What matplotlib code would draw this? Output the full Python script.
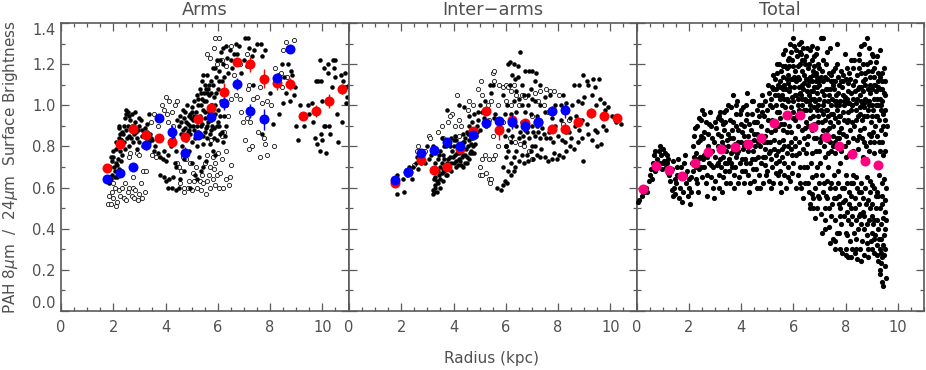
import numpy as np
import matplotlib
matplotlib.use("Agg")
import matplotlib.pyplot as plt

plt.rcParams["font.family"] = ["DejaVu Sans"]
plt.rcParams["mathtext.fontset"] = "dejavusans"

# ------------------------------------------------------------
# Binned means
# ------------------------------------------------------------
arms_red_x = [1.75, 2.25, 2.75, 3.25, 3.75, 4.25, 4.75, 5.25, 5.75, 6.25, 6.75, 7.25, 7.75, 8.25, 8.75, 9.25, 9.75, 10.25, 10.75]
arms_red_y = [0.693, 0.81, 0.885, 0.857, 0.84, 0.823, 0.845, 0.935, 0.989, 1.067, 1.213, 1.20, 1.13, 1.107, 1.105, 0.948, 0.974, 1.02, 1.08]
arms_red_e = [0.01, 0.01, 0.01, 0.01, 0.02, 0.02, 0.01, 0.01, 0.01, 0.04, 0.02, 0.035, 0.045, 0.03, 0.03, 0.01, 0.03, 0.035, 0.025]
arms_blue_x = [1.75, 2.25, 2.75, 3.25, 3.75, 4.25, 4.75, 5.25, 5.75, 6.25, 6.75, 7.25, 7.75, 8.25, 8.75]
arms_blue_y = [0.64, 0.672, 0.698, 0.805, 0.94, 0.87, 0.769, 0.858, 0.945, 1.01, 1.105, 0.974, 0.932, 1.133, 1.276]
arms_blue_e = [0.01, 0.01, 0.01, 0.02, 0.01, 0.035, 0.03, 0.02, 0.02, 0.03, 0.03, 0.035, 0.05, 0.02, 0.01]

inter_red_x = [1.75, 2.25, 2.75, 3.25, 3.75, 4.25, 4.75, 5.25, 5.75, 6.25, 6.75, 7.25, 7.75, 8.25, 8.75, 9.25, 9.75, 10.25]
inter_red_y = [0.624, 0.675, 0.735, 0.685, 0.70, 0.787, 0.875, 0.974, 0.88, 0.928, 0.912, 0.92, 0.886, 0.885, 0.917, 0.963, 0.95, 0.94]
inter_red_e = [0.01, 0.01, 0.01, 0.01, 0.01, 0.01, 0.01, 0.01, 0.05, 0.02, 0.02, 0.02, 0.01, 0.01, 0.01, 0.025, 0.02, 0.01]
inter_blue_x = [1.75, 2.25, 2.75, 3.25, 3.75, 4.25, 4.75, 5.25, 5.75, 6.25, 6.75, 7.25, 7.75, 8.25]
inter_blue_y = [0.636, 0.678, 0.766, 0.784, 0.82, 0.803, 0.855, 0.912, 0.925, 0.92, 0.90, 0.92, 0.974, 0.977]
inter_blue_e = [0.01, 0.01, 0.01, 0.01, 0.01, 0.01, 0.01, 0.02, 0.02, 0.035, 0.03, 0.03, 0.025, 0.04]

total_x = [0.25, 0.75, 1.25, 1.75, 2.25, 2.75, 3.25, 3.75, 4.25, 4.75, 5.25, 5.75, 6.25, 6.75, 7.25, 7.75, 8.25, 8.75, 9.25]
total_y = [0.595, 0.706, 0.685, 0.657, 0.719, 0.772, 0.789, 0.797, 0.811, 0.839, 0.912, 0.953, 0.951, 0.894, 0.847, 0.803, 0.761, 0.73, 0.709]

# ------------------------------------------------------------
# Individual pixels, estimated by eye (radius, ratio)
# ------------------------------------------------------------
arms_filled = [
(1.85,0.62),(1.9,0.64),(1.95,0.66),(1.88,0.7),(1.95,0.73),(2.0,0.75),(1.92,0.75),(2.0,0.78),(2.05,0.68),(2.1,0.72),(2.12,0.79),(2.15,0.65),
(2.2,0.69),(2.18,0.74),(2.2,0.84),(2.2,0.89),(2.22,0.9),(2.25,0.78),(2.3,0.83),(2.32,0.87),(2.35,0.76),(2.4,0.9),(2.42,0.82),(2.45,0.79),
(2.48,0.98),(2.5,0.96),(2.55,0.97),(2.6,0.95),(2.5,0.88),(2.52,0.84),(2.6,0.8),(2.62,0.85),(2.65,0.93),(2.7,0.9),(2.72,0.96),(2.75,0.82),
(2.8,0.86),(2.85,0.92),(2.9,0.79),(2.92,0.84),(2.95,0.88),(3.0,0.82),(3.05,0.93),(3.1,0.85),(3.15,0.8),(3.2,0.89),(3.25,0.84),(3.3,0.91),
(3.35,0.96),(3.38,0.82),(3.42,0.86),(3.5,0.83),(3.55,0.78),(3.6,0.8),(3.7,0.77),(3.8,0.75),(3.9,0.74),(3.95,0.78),(3.8,0.66),(3.95,0.65),
(4.0,0.63),(4.1,0.6),(4.15,0.64),(4.25,0.6),(4.3,0.65),(4.4,0.59),(4.5,0.6),(4.55,0.64),(4.0,0.73),(4.1,0.76),(4.2,0.8),(4.3,0.84),
(4.35,0.72),(4.4,0.78),(4.45,0.93),(4.5,0.9),(4.55,0.95),(4.6,0.86),(4.62,0.8),(4.65,0.98),(4.7,0.94),(4.72,0.74),(4.75,0.89),(4.8,0.83),
(4.82,1.0),(4.85,0.91),(4.9,0.78),(4.92,0.96),(4.95,0.86),(5.0,0.99),(5.0,0.82),(5.02,0.72),(5.05,0.93),(5.1,1.02),(5.1,0.88),(5.12,0.66),
(5.15,0.97),(5.2,0.8),(5.2,1.05),(5.22,0.9),(5.25,1.0),(5.28,0.75),(5.3,1.08),(5.3,0.95),(5.32,0.86),(5.35,0.68),(5.38,1.03),(5.4,1.12),
(5.4,0.91),(5.42,0.81),(5.45,1.15),(5.45,0.98),(5.48,1.06),(5.5,0.87),(5.5,1.1),(5.52,0.94),(5.55,1.02),(5.55,0.73),(5.58,0.84),(5.6,1.15),
(5.6,0.9),(5.62,1.08),(5.65,0.97),(5.68,1.05),(5.7,0.86),(5.72,1.12),(5.75,0.93),(5.78,1.0),(5.8,0.78),(5.82,1.18),(5.85,0.89),(5.85,1.04),
(5.9,0.96),(5.92,1.14),(5.95,0.83),(5.98,1.22),(6.0,0.92),(6.0,1.08),(6.05,1.17),(6.1,0.86),(6.12,1.26),(6.15,1.12),(6.2,1.2),(6.2,0.82),
(6.25,0.95),(6.3,1.29),(6.35,1.23),(6.4,1.16),(6.45,1.27),(6.5,1.22),(6.55,1.18),(6.6,1.25),(6.7,1.3),(6.75,1.25),(6.8,1.29),(6.9,1.16),
(7.0,1.22),(7.05,1.33),(7.15,1.33),(7.2,1.28),(7.3,1.24),(7.4,1.27),(7.5,1.3),(7.65,1.3),(7.7,1.24),(7.8,1.27),(7.1,1.19),(7.35,1.1),
(8.1,0.91),(8.0,1.06),(8.2,1.12),(8.3,1.15),(8.35,0.96),(8.45,1.2),(8.5,1.01),(8.55,1.14),(8.6,1.06),(8.7,1.2),(8.75,1.02),(8.8,1.17),
(8.95,1.09),(8.9,1.05),(7.7,0.86),(8.85,1.15),
(9.0,0.9),(9.05,0.83),(9.15,1.0),(9.3,0.9),(9.35,0.95),(9.45,1.0),(9.5,0.96),(9.6,1.01),(9.65,0.92),(9.7,0.84),(9.75,1.12),(9.85,1.12),
(9.95,1.12),(9.9,0.78),(9.95,0.86),(9.8,0.81),(10.0,0.83),(10.05,0.9),(10.0,1.02),(10.1,0.9),(10.05,1.18),(10.2,1.16),(10.15,0.77),(10.25,0.9),
(10.3,0.86),(10.35,1.09),(10.4,1.22),(10.45,1.18),(10.5,1.14),(10.55,0.96),(10.6,0.82),(10.75,0.92),(10.85,1.16),(10.9,1.01),(10.95,1.04),
(10.7,1.15),(10.8,1.12),(10.5,1.22),(9.9,1.22),(10.2,1.2),(11.0,1.1),(10.9,1.09),(4.7,0.68),(4.95,0.6),(5.2,0.64),(5.45,0.7),(4.4,0.7),
(3.0,0.94),(2.85,0.97),(2.3,0.73),(5.7,0.81),(5.9,0.76),(6.1,0.95),(6.3,0.9),(5.35,1.0),(5.55,1.08),(5.75,1.06),(4.9,0.88),(5.1,0.95),
# denser knots around the main ridge
(5.05,0.9),(5.12,0.84),(5.18,0.93),(5.24,0.87),(5.26,1.03),(5.34,0.9),(5.36,1.06),(5.44,0.85),(5.46,1.02),(5.52,0.97),(5.56,0.89),(5.58,1.06),
(5.64,0.92),(5.66,1.1),(5.72,1.0),(5.74,0.88),(5.8,1.1),(5.82,0.94),(5.88,1.0),(5.9,1.18),(5.94,1.06),(6.02,0.98),(6.04,1.12),(6.08,1.22),
(6.14,1.02),(6.18,1.28),(6.22,1.14),(4.58,0.92),(4.68,0.88),(4.74,0.97),(4.78,0.92),(4.84,0.87),(4.88,0.95),(4.94,0.9),(4.98,0.94),(5.02,0.97),
(2.1,0.82),(2.26,0.86),(2.38,0.86),(2.44,0.94),(2.56,0.9),(2.68,0.84),(2.78,0.9),(2.88,0.87),(2.98,0.9),(3.08,0.88),(3.18,0.86),(3.28,0.87),
(3.34,0.84),(3.46,0.84),(2.02,0.7),(2.08,0.65),(2.16,0.71),(6.06,0.9),(6.16,0.87),(6.26,0.85),(5.96,0.9),(5.84,0.84),(5.76,0.9),
]
arms_open = [
(1.8,0.52),(1.85,0.56),(1.9,0.52),(1.95,0.58),(2.0,0.55),(2.05,0.6),(2.1,0.51),(2.15,0.53),(2.2,0.59),(2.25,0.56),(2.35,0.6),(2.4,0.55),
(2.45,0.62),(2.5,0.54),(2.55,0.58),(2.6,0.6),(2.7,0.56),(2.75,0.6),(2.8,0.55),(2.85,0.59),(2.95,0.54),(3.0,0.57),(3.05,0.62),(3.1,0.55),
(3.2,0.58),(3.15,0.68),(3.25,0.68),(2.75,0.65),(2.6,0.75),(2.9,0.77),(2.0,0.62),(1.85,0.65),(3.0,0.76),(3.5,0.76),(3.65,0.75),
(3.7,0.9),(3.55,0.96),(3.45,0.92),(3.95,0.98),(4.0,1.04),(3.85,1.0),(4.15,1.02),(4.35,1.0),(4.45,1.02),(4.25,0.97),(4.1,0.92),(4.05,0.96),
(4.3,0.9),(4.2,0.88),(4.6,0.68),(4.45,0.72),(4.5,0.7),(4.55,0.62),(4.7,0.6),(4.7,0.58),(4.85,0.6),(4.95,0.72),(5.05,0.67),(5.1,0.63),
(5.2,0.6),(5.3,0.63),(5.35,0.59),(5.45,0.62),(5.55,0.57),(5.6,0.63),(5.7,0.6),(5.8,0.64),(5.9,0.61),(5.95,0.66),(6.05,0.6),(6.1,0.67),
(6.2,0.6),(6.3,0.64),(6.42,0.61),(6.45,0.65),(6.5,0.71),(5.5,0.72),(5.7,0.7),(5.8,0.75),(5.9,0.72),(6.0,0.77),(6.15,0.74),(6.3,0.78),
(5.6,0.76),(5.75,0.83),(6.15,0.85),(6.25,0.87),(5.6,1.25),(5.7,1.23),(5.85,1.28),(5.9,1.33),(6.05,1.33),(5.95,1.2),(6.15,1.22),(6.3,1.19),
(6.5,1.29),(6.6,1.15),(6.3,1.0),(6.4,0.95),(6.5,1.03),(6.7,1.05),(6.85,1.03),(6.9,0.97),(7.15,1.08),(7.2,1.1),(7.35,1.03),(7.5,1.04),
(7.6,1.09),(7.9,1.02),(8.05,1.0),(7.7,1.01),(7.1,0.94),(6.95,0.92),(7.25,0.92),(7.05,0.83),(7.3,0.8),(7.2,0.79),(7.55,0.87),(7.6,0.75),
(7.75,0.84),(7.8,0.81),(7.9,0.76),(8.15,0.8),(8.2,1.18),(8.4,1.16),(8.65,1.14),(8.5,1.27),(8.6,1.31),(8.9,1.32),(8.3,1.12),(8.45,1.09),
(7.1,1.25),(6.85,1.2),(2.3,0.83),(2.65,0.77),(4.65,0.75),(4.8,0.74),(4.9,0.63),(5.0,0.59),(5.15,0.7),(5.4,0.66),(5.65,0.66),(5.85,0.69),
]
inter_filled = [
(1.85,0.57),(1.85,0.66),(2.05,0.64),(2.1,0.58),(2.2,0.66),(2.3,0.7),(2.4,0.64),(2.45,0.7),(2.55,0.72),(2.6,0.75),(2.65,0.69),(2.75,0.72),
(3.2,0.57),(3.22,0.59),(3.25,0.58),(3.28,0.61),(3.3,0.6),(3.35,0.63),(3.3,0.65),(3.4,0.62),(3.45,0.66),(3.25,0.68),(3.5,0.64),(3.55,0.67),
(3.6,0.63),(3.65,0.68),(3.5,0.7),(3.7,0.66),(3.75,0.72),(3.4,0.74),(3.6,0.76),(3.8,0.7),(3.85,0.75),(3.9,0.68),(3.95,0.78),(4.0,0.72),
(4.05,0.76),(4.1,0.7),(4.15,0.8),(4.2,0.74),(4.25,0.73),(4.3,0.78),(4.35,0.7),(4.4,0.82),(4.45,0.76),(4.5,0.72),(4.55,0.8),(4.6,0.74),
(4.65,0.78),(4.7,0.84),(4.75,0.8),(4.8,0.77),(4.85,0.85),(4.5,0.87),(4.6,0.9),(3.7,0.8),(3.55,0.84),(4.0,0.83),(3.2,0.8),(3.0,0.8),
(3.9,0.84),(4.35,0.86),(4.05,0.85),(3.75,0.98),(4.2,1.0),(4.4,0.99),(4.7,0.92),(4.8,0.96),(4.9,0.9),(5.0,1.0),(5.1,0.97),(5.2,1.02),
(5.3,0.98),(5.4,1.1),(5.5,1.1),(5.55,0.94),(5.0,0.88),(4.95,0.93),(5.15,0.94),(5.25,0.9),(5.45,1.06),(5.6,0.96),
(5.65,0.6),(5.8,0.59),(5.9,0.61),(5.95,0.63),(6.05,0.62),(6.1,0.68),(6.2,0.66),(6.3,0.68),(6.35,0.7),(5.9,0.7),(6.0,0.75),(6.1,0.78),
(6.2,0.72),(6.3,0.75),(6.4,0.78),(6.5,0.73),(6.6,0.76),(6.7,0.72),(6.85,0.73),(6.95,0.78),(7.05,0.74),(7.1,0.8),(7.2,0.76),(7.35,0.79),
(7.5,0.75),(7.6,0.73),(7.75,0.74),(7.85,0.77),(7.95,0.74),(8.05,0.76),(8.2,0.75),(8.3,0.78),(8.45,0.8),(8.6,0.79),(8.95,0.73),(8.75,0.82),
(8.9,0.84),(8.8,0.88),(9.15,0.86),(9.3,0.83),(9.5,0.8),(9.65,0.81),(5.95,0.85),(6.1,0.88),(6.25,0.85),(6.4,0.9),(6.5,0.84),(6.6,0.92),
(6.7,0.82),(6.8,0.87),(6.9,0.84),(7.0,0.9),(7.1,0.85),(7.2,0.9),(7.3,0.84),(7.4,0.89),(7.55,0.84),(7.65,0.87),(7.8,0.82),(7.9,0.9),
(8.0,0.85),(8.15,0.83),(8.3,0.87),(8.5,0.84),(8.65,0.9),(8.7,0.95),(8.9,0.93),(9.1,0.91),(9.4,0.88),(9.5,0.87),(9.7,0.9),(9.85,0.88),
(10.2,0.92),(10.4,0.91),(9.8,0.98),(9.9,0.99),(10.05,0.95),(9.45,1.0),(9.6,1.03),(9.75,1.01),(9.3,1.05),(9.15,1.1),(9.35,1.13),(9.4,1.09),
(9.55,1.13),(8.6,1.1),(8.8,1.1),(8.95,1.15),(9.1,1.12),(9.0,1.04),(8.75,1.02),(8.9,1.01),(8.55,1.0),(8.3,1.01),(8.2,1.05),(8.1,1.0),
(7.9,1.0),(7.7,1.05),(7.5,1.04),(7.3,1.1),(7.15,1.16),(7.0,1.17),(6.9,1.17),(6.75,1.17),(6.6,1.1),(6.45,1.14),(6.35,1.13),(6.25,1.15),
(6.1,1.2),(6.15,1.21),(6.3,1.2),(6.45,1.19),(6.55,1.26),(6.7,1.05),(6.85,1.05),(6.5,1.03),(6.3,1.02),(6.05,1.0),(5.9,1.05),(7.0,1.03),
(7.3,1.0),(7.5,0.97),(6.75,0.97),(6.95,0.96),(7.2,0.95),(6.2,0.96),(6.4,0.97),(5.95,0.96),(7.75,0.94),(8.1,0.93),(8.45,0.94),(6.55,0.87),
# denser knot between 3 and 5 kpc
(3.3,0.72),(3.45,0.76),(3.55,0.72),(3.65,0.74),(3.7,0.7),(3.8,0.74),(3.85,0.8),(3.92,0.72),(3.98,0.75),(4.02,0.8),(4.08,0.73),(4.12,0.77),
(4.18,0.71),(4.22,0.77),(4.28,0.71),(4.32,0.75),(4.38,0.76),(4.42,0.72),(4.48,0.79),(4.52,0.75),(4.58,0.83),(4.62,0.77),(4.68,0.81),(4.72,0.77),
(4.78,0.85),(4.82,0.81),(4.88,0.87),(4.25,0.8),(4.35,0.82),(4.45,0.84),(4.55,0.86),(4.65,0.86),(4.1,0.83),(3.35,0.58),(3.27,0.64),(3.42,0.68),
(3.5,0.6),(3.6,0.69),(3.75,0.66),(2.9,0.72),(3.05,0.74),(3.15,0.76),(3.3,0.77),(3.5,0.78),(3.65,0.8),(4.6,0.95),(4.75,0.88),(4.95,0.97),
(6.65,0.85),(6.75,0.88),(7.05,0.87),(7.25,0.87),(7.45,0.86),(7.7,0.84),(8.25,0.82),(8.4,0.87),(6.2,0.82),(6.0,0.8),(6.8,0.76),(7.0,0.8),
(7.3,0.75),(6.95,1.08),(7.1,1.12),(6.6,1.0),(6.85,1.0),(7.1,1.02),(6.4,1.07),(6.15,1.1),
]
inter_open = [
(2.5,0.71),(2.6,0.78),(2.65,0.8),(2.9,0.78),(3.05,0.85),(3.1,0.84),(3.3,0.78),(3.4,0.87),(3.55,0.9),(3.6,0.84),(3.8,0.92),(3.95,0.96),
(3.85,0.95),(4.05,0.9),(4.2,0.93),(4.3,0.9),(4.15,1.05),(4.55,0.98),(4.6,1.02),(4.75,1.0),(4.95,1.08),(5.05,1.12),(5.1,1.05),(5.3,1.0),
(5.5,1.16),(5.55,1.17),(5.55,1.12),(5.75,1.1),(5.9,1.09),(6.0,1.1),(6.1,1.09),(6.2,1.07),(6.3,1.1),(6.4,1.05),(6.5,1.0),(6.6,1.05),
(6.75,1.04),(7.1,1.06),(7.3,1.07),(7.55,1.08),(7.7,1.07),(7.85,1.07),(8.05,1.05),(8.3,0.98),(8.4,0.93),(4.2,0.85),
(5.0,0.7),(5.1,0.74),(5.2,0.76),(5.35,0.74),(5.5,0.74),(5.6,0.76),(5.7,0.8),(5.0,0.66),(5.1,0.66),(5.25,0.67),(5.35,0.64),(5.4,0.62),
(5.45,0.64),(5.5,0.85),(5.35,0.93),(6.0,0.8),(6.15,0.84),(6.35,0.82),(6.55,0.81),(6.7,0.8),(6.9,0.78),(7.0,0.74),(5.8,0.89),(5.9,0.92),
(7.0,0.95),(7.25,1.02),(7.45,1.0),(7.6,0.97),(7.8,0.98),(8.2,0.91),(6.0,1.02),(6.2,1.0),(5.7,1.0),(5.45,1.02),
]
total_filled = [
(0.07,0.53),(0.1,0.54),(0.22,0.56),(0.3,0.58),(0.36,0.6),(0.42,0.58),(0.47,0.63),(0.52,0.66),(0.55,0.69),(0.6,0.64),(0.63,0.72),(0.68,0.76),
(0.72,0.78),(0.78,0.74),(0.82,0.71),(0.85,0.78),(0.9,0.8),(0.93,0.76),(0.97,0.69),(0.7,0.68),(0.88,0.72),(1.02,0.79),(1.05,0.73),(1.1,0.77),
(1.14,0.7),(1.18,0.76),(1.22,0.74),(1.26,0.66),(1.3,0.63),(1.34,0.69),(1.38,0.73),(1.42,0.6),(1.46,0.64),(1.48,0.57),(1.35,0.59),(1.4,0.56),
(1.2,0.67),(1.52,0.62),(1.56,0.7),(1.6,0.74),(1.62,0.55),(1.66,0.6),(1.7,0.65),(1.74,0.53),(1.78,0.58),(1.8,0.72),(1.84,0.76),(1.88,0.62),
(1.92,0.68),(1.96,0.56),(2.0,0.6),(2.05,0.52),(2.08,0.65),(2.12,0.72),(2.16,0.8),(2.2,0.85),(2.24,0.89),(2.28,0.77),(2.3,0.62),(2.34,0.58),
(2.38,0.69),(2.42,0.83),(2.46,0.93),(2.5,0.98),(2.54,0.74),(2.58,0.96),(2.6,0.87),(2.64,0.62),(2.68,0.56),(2.7,0.66),(2.74,0.8),(2.78,0.91),
(2.82,0.97),(2.86,0.71),(2.9,0.84),(2.94,0.6),(2.98,0.55),(3.02,0.75),(3.06,0.89),(3.1,0.94),(3.14,0.66),(3.18,0.79),(3.22,0.85),(3.26,0.58),
(3.3,0.91),(3.34,0.97),(3.38,0.72),(3.42,0.62),(3.46,0.83),(3.5,1.0),(3.54,0.68),(3.58,0.93),(3.62,0.77),(3.66,0.88),(3.7,1.05),(3.74,0.6),
(3.78,0.7),(3.82,0.96),(3.86,1.02),(3.9,0.82),(3.94,0.65),(3.98,0.91),(4.02,0.74),(4.06,0.99),(4.1,0.85),(4.14,0.68),(4.18,0.93),(4.22,1.06),
(4.26,0.78),(4.3,0.58),(4.34,0.72),(4.38,0.88),(4.42,0.96),(4.46,1.02),(4.5,0.63),(4.54,0.8),(4.58,0.69),(4.62,0.92),(4.66,0.75),(4.7,1.0),
(4.74,0.6),(4.78,0.84),(4.82,1.05),(4.86,0.95),(4.9,0.71),(4.94,0.66),(4.98,0.88),(5.02,1.1),(5.06,0.77),(5.1,1.0),(5.14,0.6),(5.18,0.93),
(5.22,1.15),(5.26,0.83),(5.3,1.05),(5.34,0.67),(5.38,1.2),(5.42,0.9),(5.46,0.73),(5.5,1.12),(5.54,0.58),(5.58,1.0),(5.62,1.25),(5.66,0.8),
(5.7,0.95),(5.74,1.18),(5.78,0.65),(5.82,1.07),(5.86,1.3),(5.9,0.87),(5.94,0.76),(5.98,1.33),(6.02,1.14),(6.06,0.93),(6.1,0.6),(6.14,1.24),
(6.18,1.03),(6.22,0.82),(6.26,0.7),(6.3,1.31),(6.34,1.1),(6.38,0.55),(6.42,0.98),(6.46,1.2),(6.5,0.77),(6.54,1.28),(6.58,0.9),(6.62,0.5),
(6.66,1.07),(6.7,0.65),(6.74,1.17),(6.78,0.84),(6.82,0.45),(6.86,1.25),(6.9,0.98),(6.94,0.56),(6.98,1.12),(7.02,0.72),(7.06,1.33),(7.1,0.38),
(7.14,0.88),(7.18,1.05),(7.22,0.5),(7.26,1.2),(7.3,0.63),(7.34,0.95),(7.38,0.41),(7.42,1.28),(7.46,0.78),(7.5,1.1),(7.54,0.55),(7.58,0.34),
(7.62,1.0),(7.66,1.3),(7.7,0.68),(7.74,0.87),(7.78,0.46),(7.82,1.17),(7.86,0.28),(7.9,1.05),(7.94,0.6),(7.98,1.25),(8.02,0.75),(8.06,0.37),
(8.1,0.93),(8.14,0.52),(8.18,1.13),(8.22,0.26),(8.26,1.0),(8.3,0.66),(8.34,1.22),(8.38,0.44),(8.42,0.83),(8.46,1.08),(8.5,0.58),(8.54,0.3),
(8.58,1.29),(8.62,0.93),(8.66,0.75),(8.7,0.4),(8.74,1.16),(8.78,0.52),(8.82,1.33),(8.86,0.26),(8.9,1.02),(8.94,0.63),(8.98,0.85),(9.02,0.46),
(9.06,1.24),(9.1,0.35),(9.14,1.1),(9.18,0.56),(9.22,0.95),(9.26,0.66),(9.3,1.27),(9.34,0.28),(9.38,0.82),(9.42,0.45),(9.46,1.18),(9.5,0.22),
(9.52,1.05),(9.55,0.6),(9.57,0.9),(9.48,0.37),(9.4,0.14),(9.45,0.12),(9.55,0.16),(9.3,0.2),(9.32,0.18),
(2.6,0.76),(2.9,0.78),(3.1,0.8),(3.3,0.75),(3.5,0.8),(3.6,0.72),(3.7,0.84),(3.85,0.77),(4.0,0.82),(4.15,0.74),(4.28,0.85),(4.45,0.78),
(4.6,0.86),(4.72,0.8),(4.85,0.75),(5.0,0.82),(5.15,0.87),(5.3,0.92),(5.45,0.97),(5.6,0.88),(5.75,1.03),(5.9,0.99),(6.05,1.05),(6.2,0.98),
(6.35,1.03),(6.5,0.92),(6.6,1.02),(6.75,0.95),(6.9,1.06),(7.05,0.98),(7.2,0.93),(7.35,1.05),(7.5,0.96),(7.65,1.05),(7.8,0.95),(7.95,1.0),
(8.1,1.07),(8.25,0.92),(8.4,0.98),(8.55,1.05),(8.7,0.95),(8.85,1.08),(9.0,1.0),(9.15,0.95),(9.3,1.03),(9.45,0.9),(9.5,0.98),
(5.35,1.08),(5.5,1.03),(5.65,1.1),(5.8,1.15),(5.95,1.22),(6.1,1.12),(6.25,1.2),(6.4,1.15),(6.55,1.1),(6.7,1.22),(6.85,1.12),(7.0,1.18),
(7.15,1.12),(7.3,1.08),(7.45,1.15),(7.6,1.18),(7.75,1.1),(7.9,1.15),(8.05,1.18),(8.2,1.22),(8.35,1.12),(8.5,1.18),(8.65,1.12),(8.8,1.2),
(8.95,1.14),(9.1,1.18),(9.25,1.12),(9.4,1.08),(9.5,1.12),
(5.2,0.7),(5.35,0.76),(5.5,0.68),(5.65,0.72),(5.8,0.8),(5.95,0.67),(6.1,0.76),(6.25,0.62),(6.4,0.7),(6.55,0.62),(6.7,0.57),(6.85,0.66),
(7.0,0.62),(7.15,0.58),(7.3,0.55),(7.45,0.62),(7.6,0.6),(7.75,0.56),(7.9,0.53),(8.05,0.48),(8.2,0.56),(8.35,0.5),(8.5,0.46),(8.65,0.55),
(8.8,0.42),(8.95,0.5),(9.1,0.44),(9.25,0.4),(9.4,0.52),(9.5,0.48),(7.5,0.35),(7.75,0.38),(8.0,0.3),(8.2,0.42),(8.4,0.35),(8.6,0.42),
(8.8,0.33),(9.0,0.38),(9.2,0.32),(9.35,0.35),(9.5,0.3),(8.1,0.26),(8.35,0.28),(8.6,0.24),(8.85,0.3),(9.1,0.28),(9.25,0.24),
(7.0,0.78),(7.2,0.75),(7.4,0.82),(7.6,0.77),(7.8,0.72),(8.0,0.66),(8.2,0.62),(8.4,0.65),(8.6,0.62),(8.8,0.65),(9.0,0.61),(9.2,0.58),
(9.4,0.62),(7.1,0.85),(7.3,0.88),(7.5,0.85),(7.7,0.92),(7.9,0.86),(8.1,0.82),(8.3,0.78),(8.5,0.85),(8.7,0.82),(8.9,0.78),(9.1,0.82),
(9.3,0.78),(9.5,0.78),
# second pass over the dense body, band by band
(2.55,0.84),(2.72,0.86),(2.84,0.9),(2.96,0.82),(3.12,0.86),(3.24,0.93),(3.36,0.88),(3.44,0.78),(3.56,0.84),(3.68,0.92),(3.76,0.81),(3.88,0.88),
(3.96,0.96),(4.04,0.87),(4.12,0.9),(4.2,0.82),(4.32,0.91),(4.36,0.82),(4.48,0.86),(4.56,0.92),(4.64,0.82),(4.76,0.9),(4.8,0.97),(4.92,0.85),
(5.04,0.93),(5.12,0.82),(5.2,0.99),(5.28,0.88),(5.36,0.97),(5.44,0.82),(5.52,0.91),(5.6,0.83),(5.68,0.99),(5.76,0.87),(5.84,0.96),(5.92,0.82),
(6.0,0.97),(6.08,0.84),(6.16,0.9),(6.24,1.06),(6.32,0.88),(6.4,0.84),(6.48,0.98),(6.56,0.85),(6.64,0.94),(6.72,0.88),(6.8,0.99),(6.88,0.84),
(6.96,0.92),(7.04,0.84),(7.12,0.96),(7.28,0.83),(7.36,0.89),(7.44,0.96),(7.52,0.9),(7.6,0.82),(7.68,0.98),(7.76,0.84),(7.84,0.89),(7.92,0.93),
(8.0,0.85),(8.08,0.97),(8.16,0.88),(8.32,0.9),(8.48,0.95),(8.56,0.88),(8.64,1.0),(8.72,0.89),(8.8,0.95),(8.88,0.86),(8.96,0.92),(9.04,0.87),
(9.12,0.9),(9.2,0.85),(9.28,0.93),(9.36,0.88),(9.44,0.96),(9.52,0.86),
(4.9,1.02),(5.0,0.98),(5.08,1.06),(5.16,1.03),(5.24,1.08),(5.32,1.0),(5.4,1.05),(5.48,1.09),(5.56,1.05),(5.64,1.03),(5.72,1.08),(5.8,1.02),
(5.88,1.09),(5.96,1.04),(6.04,1.09),(6.12,1.05),(6.2,1.09),(6.28,1.05),(6.36,1.08),(6.44,1.03),(6.52,1.07),(6.6,1.05),(6.68,1.03),(6.76,1.07),
(6.84,1.02),(6.92,1.09),(7.0,1.03),(7.08,1.07),(7.16,1.02),(7.24,1.08),(7.32,1.02),(7.4,1.08),(7.48,1.03),(7.56,1.08),(7.64,1.02),(7.72,1.06),
(7.8,1.02),(7.88,1.09),(7.96,1.04),(8.04,1.03),(8.12,1.01),(8.2,1.06),(8.28,1.03),(8.36,1.07),(8.44,1.03),(8.52,1.09),(8.6,1.02),(8.68,1.07),
(8.76,1.03),(8.84,1.02),(8.92,1.06),(9.0,1.08),(9.08,1.03),(9.16,1.07),(9.24,1.0),(9.32,1.08),(9.4,1.02),(9.48,1.06),
(5.2,1.09),(5.28,1.13),(5.36,1.16),(5.44,1.2),(5.52,1.17),(5.6,1.14),(5.68,1.19),(5.76,1.13),(5.84,1.19),(5.92,1.13),(6.0,1.19),(6.08,1.17),
(6.16,1.14),(6.24,1.26),(6.32,1.17),(6.4,1.22),(6.48,1.13),(6.56,1.18),(6.64,1.14),(6.72,1.12),(6.8,1.19),(6.88,1.16),(6.96,1.2),(7.04,1.14),
(7.12,1.22),(7.2,1.14),(7.36,1.16),(7.44,1.12),(7.52,1.17),(7.6,1.12),(7.68,1.2),(7.84,1.12),(8.0,1.13),(8.12,1.16),(8.28,1.18),(8.44,1.15),
(8.52,1.22),(8.6,1.16),(8.68,1.2),(8.76,1.13),(8.84,1.17),(8.92,1.21),(9.0,1.17),(9.08,1.14),(9.16,1.21),(9.24,1.16),(9.32,1.14),(9.4,1.16),
(5.7,1.27),(5.78,1.22),(5.9,1.26),(6.02,1.29),(6.1,1.27),(6.2,1.3),(6.28,1.25),(6.36,1.28),(6.5,1.24),(6.62,1.27),(6.7,1.29),(6.78,1.24),
(6.9,1.28),(7.14,1.33),(7.3,1.26),(8.7,1.3),(8.9,1.28),(9.0,1.25),(9.2,1.24),(8.5,1.25),
(2.28,0.7),(2.44,0.75),(2.5,0.65),(2.6,0.7),(2.76,0.72),(2.84,0.65),(2.92,0.7),(3.0,0.63),(3.08,0.71),(3.16,0.6),(3.24,0.7),(3.32,0.65),
(3.4,0.68),(3.48,0.72),(3.56,0.62),(3.64,0.7),(3.72,0.66),(3.8,0.75),(3.88,0.62),(3.96,0.72),(4.04,0.68),(4.12,0.62),(4.2,0.72),(4.28,0.66),
(4.36,0.62),(4.44,0.69),(4.52,0.74),(4.6,0.6),(4.68,0.66),(4.76,0.72),(4.84,0.62),(4.92,0.75),(5.0,0.68),(5.08,0.63),(5.16,0.74),(5.24,0.62),
(5.32,0.72),(5.4,0.66),(5.48,0.62),(5.56,0.75),(5.64,0.66),(5.72,0.6),(5.8,0.7),(5.88,0.63),(6.0,0.72),(6.16,0.66),(6.3,0.6),(6.44,0.62),
(6.52,0.7),(6.6,0.58),(6.68,0.72),(6.76,0.55),(6.84,0.6),(6.92,0.7),(7.0,0.55),(7.08,0.66),(7.16,0.62),(7.24,0.56),(7.32,0.7),(7.4,0.6),
(7.48,0.52),(7.56,0.66),(7.64,0.55),(7.72,0.62),(7.8,0.5),(7.88,0.6),(7.96,0.54),(8.04,0.62),(8.12,0.58),(8.2,0.5),(8.28,0.62),(8.36,0.55),
(8.44,0.6),(8.52,0.52),(8.6,0.58),(8.68,0.48),(8.76,0.6),(8.84,0.54),(8.92,0.58),(9.0,0.52),(9.08,0.6),(9.16,0.5),(9.24,0.56),(9.32,0.5),
(9.4,0.56),(9.5,0.54),(9.48,0.64),
(7.2,0.44),(7.36,0.5),(7.44,0.46),(7.6,0.44),(7.68,0.38),(7.76,0.52),(7.84,0.42),(7.92,0.46),(8.0,0.38),(8.08,0.44),(8.16,0.34),(8.24,0.46),
(8.32,0.38),(8.4,0.3),(8.48,0.4),(8.56,0.47),(8.64,0.34),(8.72,0.46),(8.8,0.37),(8.88,0.44),(8.96,0.34),(9.04,0.42),(9.12,0.37),(9.2,0.44),
(9.28,0.35),(9.36,0.42),(9.44,0.32),(9.52,0.4),(9.56,0.44),(9.2,0.27),(9.4,0.26),(9.3,0.3),(9.0,0.3),(8.72,0.27),(8.45,0.25),(8.25,0.3),
(8.0,0.27),(7.8,0.3),(7.6,0.3),(7.4,0.33),(7.2,0.4),(7.05,0.47),(6.9,0.5),(6.75,0.5),(6.65,0.52),(9.46,0.27),(9.35,0.23),
(1.0,0.72),(1.16,0.72),(1.3,0.68),(1.54,0.66),(1.7,0.7),(1.86,0.66),(2.02,0.64),(2.1,0.58),(2.18,0.68),(2.26,0.64),(2.36,0.74),(2.48,0.7),
(2.2,0.75),(2.34,0.82),(2.32,0.9),(2.4,0.94),(2.48,0.85),(2.66,0.92),(2.7,0.75),(3.0,0.92),(3.16,0.95),(3.2,0.74),(3.28,0.82),(3.4,0.92),
(3.52,0.74),(3.8,0.9),(4.08,0.79),(4.24,0.96),(4.4,0.74),(4.5,0.92),(4.68,0.95),(4.88,0.82),
# third pass, filling gaps between the bands
(5.1,0.78),(5.26,0.79),(5.42,0.78),(5.58,0.79),(5.74,0.77),(5.9,0.79),(6.06,0.8),(6.22,0.77),(6.38,0.79),(6.54,0.81),(6.7,0.77),(6.86,0.78),
(7.02,0.82),(7.18,0.8),(7.34,0.77),(7.5,0.8),(7.66,0.84),(7.82,0.78),(7.98,0.8),(8.14,0.76),(8.3,0.84),(8.46,0.79),(8.62,0.84),(8.78,0.8),
(8.94,0.82),(9.1,0.77),(9.26,0.82),(9.42,0.76),(5.5,0.94),(5.66,0.91),(5.82,0.9),(5.98,0.94),(6.14,0.95),(6.3,0.95),(6.46,0.89),(6.62,0.98),
(6.78,0.91),(6.94,0.95),(7.1,0.92),(7.26,0.98),(7.42,0.92),(7.58,0.94),(7.74,0.95),(7.9,0.97),(8.06,0.92),(8.22,0.98),(8.38,0.93),(8.54,0.96),
(8.7,0.99),(8.86,0.98),(9.02,0.95),(9.18,1.0),(9.34,0.98),(9.5,0.93),(6.0,1.02),(6.16,1.0),(6.32,1.0),(6.48,1.02),(6.64,1.0),(6.8,1.03),
(6.96,1.0),(7.12,1.0),(7.28,0.98),(7.44,1.0),(7.6,1.02),(7.76,1.0),(7.92,1.02),(8.08,1.01),(8.24,1.0),(8.4,1.01),(8.56,0.99),(8.72,1.01),
(8.88,1.0),(9.04,0.98),(9.2,1.03),(9.36,1.0),(5.6,1.19),(5.84,1.23),(6.16,1.19),(6.32,1.22),(6.6,1.2),(6.76,1.15),(6.92,1.14),(7.08,1.17),
(8.6,1.09),(8.76,1.1),(8.92,1.1),(9.08,1.1),(9.24,1.09),(9.4,1.12),(8.3,1.1),(8.1,1.11),(7.9,1.12),(7.7,1.14),(7.5,1.12),(7.3,1.13),
(7.0,1.1),(6.8,1.09),(6.6,1.12),(6.4,1.11),(6.2,1.13),(6.0,1.13),(5.8,1.11),(5.6,1.08),(5.4,1.1),(3.2,0.97),(3.42,0.98),(3.6,0.99),
(3.8,1.0),(4.0,0.98),(4.2,1.0),(4.4,1.02),(4.6,0.98),(4.8,1.0),(3.1,0.72),(3.3,0.8),(3.5,0.86),(3.7,0.78),(3.9,0.78),(4.1,0.8),
(4.3,0.81),(4.5,0.83),(4.7,0.85),(4.9,0.79),
]

# ------------------------------------------------------------
# Figure canvas
# ------------------------------------------------------------
W, H = 926, 370
fig = plt.figure(figsize=(W / 100, H / 100), dpi=100)
TEXT = "#505050"
EDGE = "#5a5a5a"
panels = [(61, "Arms"), (349, "Inter\u2212arms"), (636.5, "Total")]
axes = []
for i, (left, title) in enumerate(panels):
    ax = fig.add_axes([left / W, 1 - 310.7 / H, 287.5 / W, 287.4 / H])
    ax.set_xlim(0, 11)
    ax.set_ylim(0, 1.4)
    ax.set_xticks(np.arange(0, 11, 2))
    ax.set_xticks(np.arange(0, 11.01, 0.5), minor=True)
    ax.set_yticks(np.arange(0, 1.41, 0.2))
    ax.set_yticks(np.arange(0, 1.41, 0.1), minor=True)
    ax.tick_params(which="major", direction="in", top=True, right=True, length=6, width=0.9, color=EDGE,
                   labelsize=10.5, labelcolor=TEXT, pad=7)
    ax.tick_params(which="minor", direction="in", top=True, right=True, length=3, width=0.9, color=EDGE)
    for s in ax.spines.values():
        s.set_linewidth(1.2)
        s.set_color(EDGE)
    ax.set_title(title, fontsize=12.8, color=TEXT, pad=6)
    if i > 0:
        ax.tick_params(axis="y", which="both", labelleft=False)
    axes.append(ax)

labels = axes[0].get_yticklabels()
labels[0].set_va("bottom")
labels[-1].set_va("top")
axes[0].tick_params(axis="y", pad=4)


def dots(ax, pts, hollow=False, size=10.5):
    x, y = np.array(pts).T
    if hollow:
        ax.scatter(x, y, s=9, facecolors="white", edgecolors="black", linewidths=0.55, zorder=2, clip_on=False)
    else:
        ax.scatter(x, y, s=size, color="black", linewidths=0, zorder=3, clip_on=False)


def means(ax, x, y, e, col, z):
    ax.errorbar(x, y, yerr=e, fmt="none", ecolor=col, elinewidth=1.0, zorder=z)
    ax.scatter(x, y, s=52, color=col, linewidths=0, zorder=z + 0.5, clip_on=False)


# Arms
dots(axes[0], arms_open, hollow=True)
dots(axes[0], arms_filled)
means(axes[0], arms_red_x, arms_red_y, arms_red_e, "#ff0000", 5)
means(axes[0], arms_blue_x, arms_blue_y, arms_blue_e, "#0000ff", 6)

# Inter-arms
dots(axes[1], inter_open, hollow=True)
dots(axes[1], inter_filled)
means(axes[1], inter_red_x, inter_red_y, inter_red_e, "#ff0000", 5)
means(axes[1], inter_blue_x, inter_blue_y, inter_blue_e, "#0000ff", 6)

# Total
dots(axes[2], total_filled, size=14)
axes[2].scatter(total_x, total_y, s=52, color="#ff0080", linewidths=0, zorder=6)

fig.text(10.5 / W, 1 - 167 / H, "PAH 8$\\mu$m  /  24$\\mu$m  Surface Brightness", rotation=90,
         ha="center", va="center", fontsize=11, color=TEXT)
fig.text(492 / W, 1 - 359 / H, "Radius (kpc)", ha="center", va="center", fontsize=11, color=TEXT)

fig.savefig("out.png", dpi=100)
